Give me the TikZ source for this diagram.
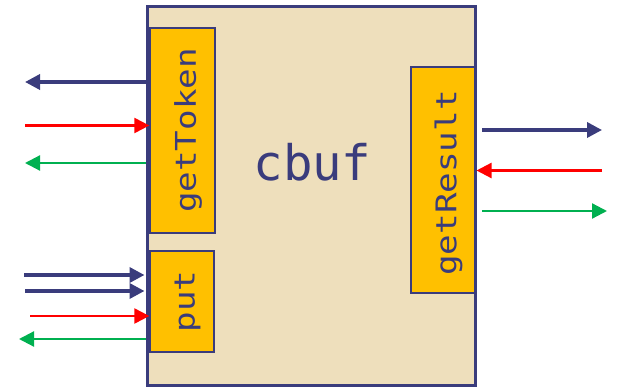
\documentclass[tikz,border=0pt]{standalone}
\usepackage{fontspec}
\usetikzlibrary{arrows.meta}
\newfontfamily\lblfont[FakeStretch=1.2]{DejaVu Sans Mono}
\newfontfamily\titlefont{DejaVu Sans Mono}
\definecolor{navy}{HTML}{3A3C7C}
\definecolor{beige}{HTML}{EEDFBC}
\definecolor{gold}{HTML}{FFC000}
\definecolor{redc}{HTML}{FF0000}
\definecolor{greenc}{HTML}{00B050}
\tikzset{
  mainbox/.style={draw=navy, fill=beige, line width=3pt, inner sep=0pt},
  opbox/.style={draw=navy, fill=gold, line width=1.3pt, inner sep=0pt},
  lbl/.style={text=navy, font=\lblfont\fontsize{28.5}{30}\selectfont, rotate=90, inner sep=0pt},
  bluearr/.style={draw=navy, line width=3.5pt, -{Triangle[length=15pt,width=15pt]}},
  redarr/.style={draw=redc, line width=2.2pt, -{Triangle[length=15pt,width=15pt]}},
  greenarr/.style={draw=greenc, line width=2.2pt, -{Triangle[length=15pt,width=15pt]}},
}
\begin{document}
\begin{tikzpicture}[x=1pt,y=-1pt]
\useasboundingbox (0,0) rectangle (617,387);
\node[mainbox, minimum width=328pt, minimum height=379pt] (main) at (311,196) {};
\node[opbox, minimum width=65pt, minimum height=205pt] (tok) at (182.5,130.5) {};
\node[opbox, minimum width=64pt, minimum height=101pt] (put) at (182,301.5) {};
\node[opbox, minimum width=64pt, minimum height=226pt] (res) at (443,180) {};
\node[lbl] (tokl) at ([xshift=5.5pt]tok.center) {getToken};
\node[lbl] (putl) at ([xshift=5.5pt]put.center) {put};
\node[lbl] (resl) at ([xshift=5.5pt,yshift=-3pt]res.center) {getResult};
\node[text=navy, font=\titlefont\fontsize{49}{52}\selectfont, inner sep=0pt] (title) at (312.5,162.5) {cbuf};
% free ends
\coordinate (a1) at (25,82);
\coordinate (a2) at (25,125.5);
\coordinate (a3) at (25,163);
\coordinate (a4) at (24,275);
\coordinate (a5) at (25,291);
\coordinate (a6) at (30,316);
\coordinate (a7) at (19,339);
\coordinate (b1) at (482,130);
\coordinate (b1e) at (602,130);
\coordinate (b2) at (602,170.5);
\coordinate (b3) at (482,211);
\coordinate (b3e) at (607,211);
% left arrows
\draw[bluearr] (main.west |- a1) -- (a1);
\draw[redarr] (a2) -- (tok.west |- a2);
\draw[greenarr] (main.west |- a3) -- (a3);
\draw[bluearr] (a4) -- ([xshift=-1pt]main.west |- a4);
\draw[bluearr] (a5) -- ([xshift=-1pt]main.west |- a5);
\draw[redarr] (a6) -- (put.west |- a6);
\draw[greenarr] (main.west |- a7) -- (a7);
% right arrows
\draw[bluearr] (b1) -- (b1e);
\draw[redarr] (b2) -- (main.east |- b2);
\draw[greenarr] (b3) -- (b3e);
\end{tikzpicture}
\end{document}
